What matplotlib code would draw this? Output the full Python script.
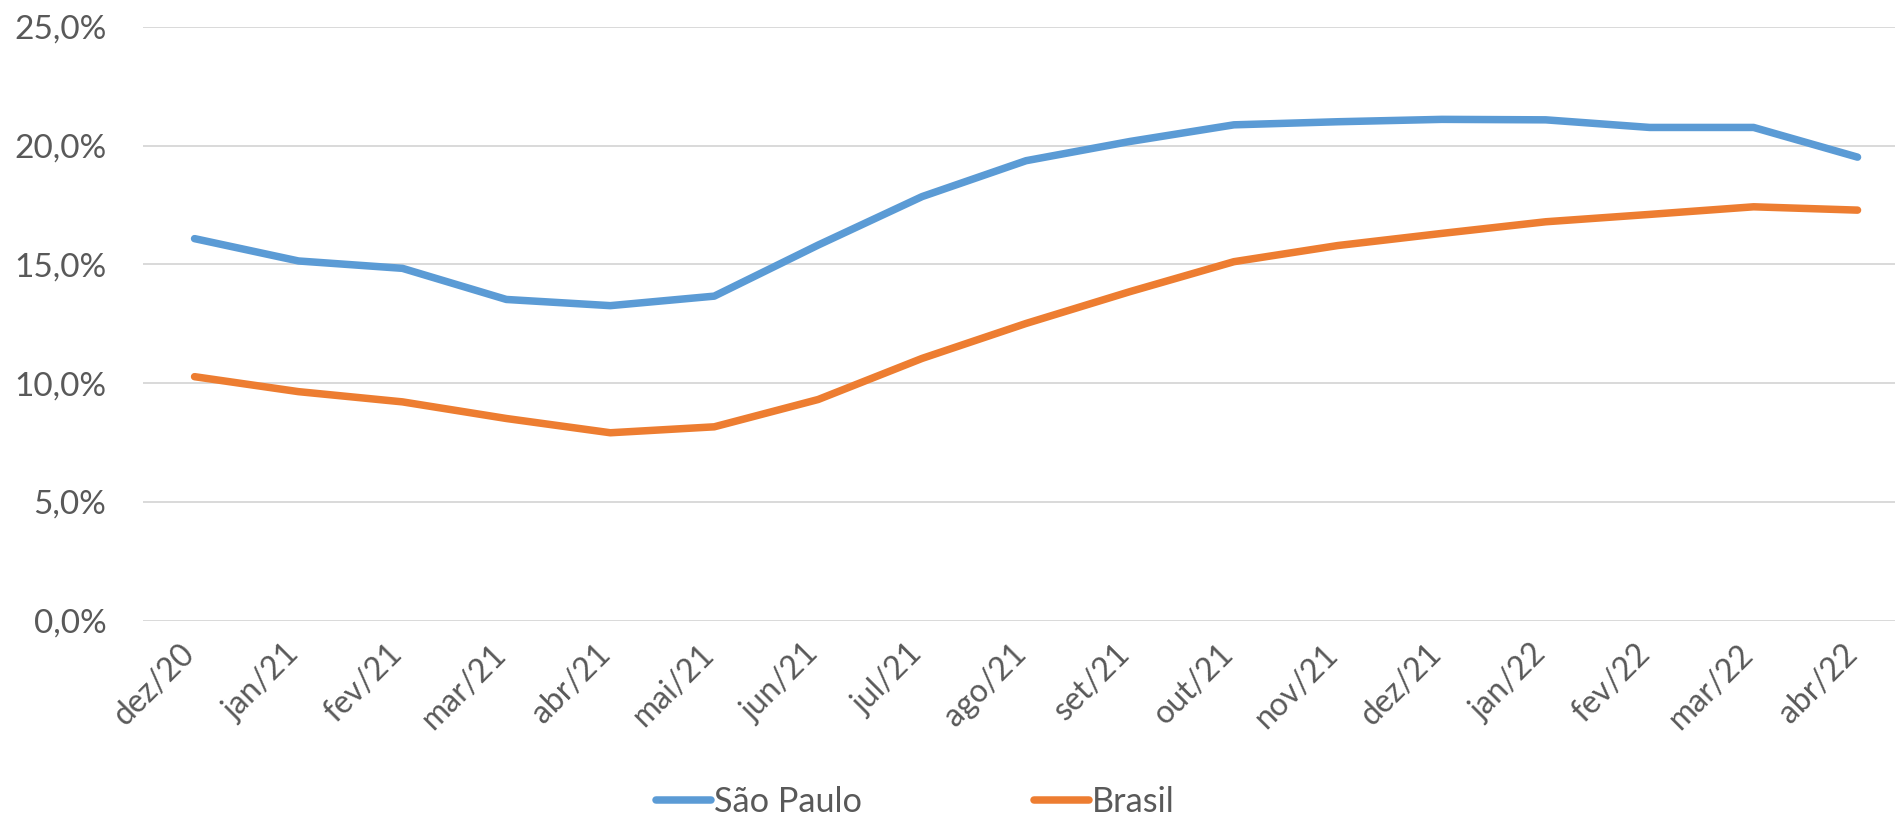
import matplotlib
matplotlib.use("Agg")
import matplotlib.pyplot as plt
from matplotlib.ticker import FuncFormatter
from matplotlib.transforms import ScaledTranslation

categories = ["dez/20", "jan/21", "fev/21", "mar/21", "abr/21", "mai/21", "jun/21",
              "jul/21", "ago/21", "set/21", "out/21", "nov/21", "dez/21", "jan/22",
              "fev/22", "mar/22", "abr/22"]
sao_paulo = [16.08, 15.14, 14.83, 13.52, 13.26, 13.66, 15.81, 17.85, 19.36, 20.17,
             20.87, 21.00, 21.10, 21.08, 20.76, 20.76, 19.51]
brasil = [10.27, 9.64, 9.21, 8.51, 7.91, 8.16, 9.31, 11.04, 12.51, 13.85,
          15.11, 15.79, 16.30, 16.79, 17.10, 17.42, 17.28]
yticks = [0, 5, 10, 15, 20, 25]

plt.rcParams['font.family'] = ['Lato', 'DejaVu Sans']
W, H = 1895, 818
fig = plt.figure(figsize=(W / 100, H / 100), dpi=100)
left = 142.6 / W
right = 1909.5 / W
bottom = 1 - 620.7 / H
top = 1 - 26.7 / H
ax = fig.add_axes([left, bottom, right - left, top - bottom])

x = list(range(len(categories)))
lw = 5.4
l1, = ax.plot(x, sao_paulo, color="#5B9BD5", lw=lw, solid_capstyle='round',
              solid_joinstyle='round', label="São Paulo", zorder=3)
l2, = ax.plot(x, brasil, color="#ED7D31", lw=lw, solid_capstyle='round',
              solid_joinstyle='round', label="Brasil", zorder=3)

ax.set_xlim(-0.5, len(categories) - 0.5)
ax.set_ylim(0, 25)
ax.set_yticks(yticks)
ax.yaxis.set_major_formatter(FuncFormatter(lambda v, p: f"{v:.1f}%".replace(".", ",")))
ax.grid(axis='y', color="#D9D9D9", lw=1.4)
ax.set_axisbelow(True)
for s in ax.spines.values():
    s.set_visible(False)
ax.tick_params(axis='y', length=0, pad=26, labelsize=24, labelcolor="#595959")
ax.set_xticks(x)
ax.set_xticklabels(categories, rotation=45, ha='right', va='top',
                   fontsize=23, color="#595959")
ax.tick_params(axis='x', length=0, pad=13)
for lab in ax.get_xticklabels():
    lab.set_transform(lab.get_transform() + ScaledTranslation(6 / 100, 0, fig.dpi_scale_trans))

leg = fig.legend(handles=[l1, l2], loc='center', bbox_to_anchor=(0.483, 1 - 802 / H),
                 ncol=2, frameon=False, fontsize=24.7, labelcolor="#595959",
                 handlelength=1.6, handletextpad=0.1, columnspacing=5.0)

fig.savefig("out.png", dpi=100)
